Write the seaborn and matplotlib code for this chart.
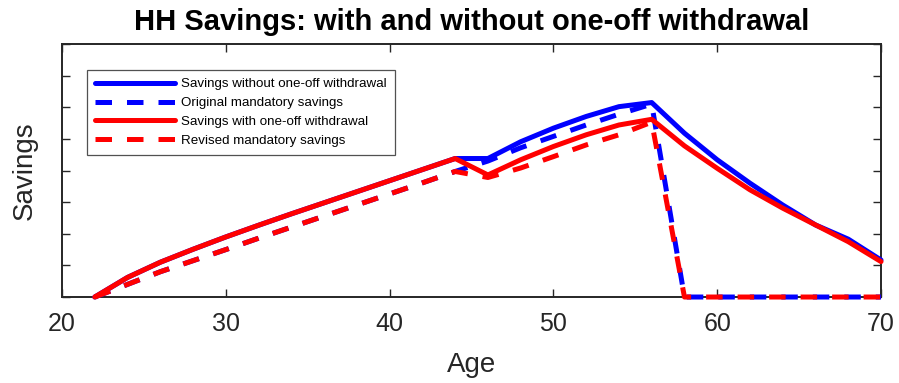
import matplotlib
matplotlib.use("Agg")
import matplotlib.pyplot as plt
import seaborn as sns

# Household savings profiles by age (arbitrary units)
ages = list(range(22, 71, 2))

savings_without = [0.00, 0.62, 1.10, 1.51, 1.90, 2.27, 2.63, 2.98, 3.33, 3.68, 4.03, 4.38,
                   4.38, 4.91, 5.34, 5.71, 6.02, 6.15, 5.18, 4.34, 3.60, 2.91, 2.28, 1.83, 1.17]
original_mandatory = [0.00, 0.40, 0.80, 1.15, 1.50, 1.86, 2.21, 2.56, 2.91, 3.26, 3.61, 3.97,
                      4.30, 4.72, 5.08, 5.44, 5.78, 6.10, 0.00, 0.00, 0.00, 0.00, 0.00, 0.00, 0.00]
savings_with = [0.00, 0.62, 1.10, 1.51, 1.90, 2.27, 2.63, 2.98, 3.33, 3.68, 4.03, 4.38,
                3.86, 4.34, 4.76, 5.13, 5.44, 5.62, 4.78, 4.07, 3.39, 2.81, 2.28, 1.75, 1.12]
revised_mandatory = [0.00, 0.40, 0.80, 1.15, 1.50, 1.86, 2.21, 2.56, 2.91, 3.26, 3.61, 3.97,
                     3.78, 4.08, 4.44, 4.81, 5.13, 5.53, 0.00, 0.00, 0.00, 0.00, 0.00, 0.00, 0.00]

series_labels = ["Savings without one-off withdrawal", "Original mandatory savings",
                 "Savings with one-off withdrawal", "Revised mandatory savings"]
x_ticks = [20, 30, 40, 50, 60, 70]
y_ticks = list(range(0, 9))

sns.set_theme(style="white")
plt.rcParams["font.family"] = ["Liberation Sans", "DejaVu Sans"]
ink = "#262626"

fig = plt.figure(figsize=(8.99, 3.83), dpi=100)
ax = fig.add_axes([0.069, 0.2245, 0.911, 0.6605])

lw = 3.6
dash = (0, (3.3, 3.0))
common = dict(lw=lw, ax=ax, clip_on=False, zorder=3)
sns.lineplot(x=ages, y=savings_without, color="#0000ff", label=series_labels[0], **common)
sns.lineplot(x=ages, y=original_mandatory, color="#0000ff", linestyle=dash,
             label=series_labels[1], **common)
sns.lineplot(x=ages, y=savings_with, color="#ff0000", label=series_labels[2], **common)
sns.lineplot(x=ages, y=revised_mandatory, color="#ff0000", linestyle=dash,
             label=series_labels[3], **common)

ax.set_xlim(20, 70)
ax.set_ylim(0, 8)
ax.set_xticks(x_ticks)
ax.set_yticks(y_ticks)
ax.set_yticklabels([])
ax.tick_params(axis="both", which="both", direction="in", length=5.5, width=1.0,
               color=ink, top=True, right=True, left=True, bottom=True)
ax.tick_params(axis="x", labelsize=18, labelcolor=ink, pad=11)
for s in ax.spines.values():
    s.set_visible(True)
    s.set_color(ink)
    s.set_linewidth(1.4)

ax.set_xlabel("Age", fontsize=20, color=ink, labelpad=11)
ax.set_ylabel("Savings", fontsize=20, color=ink, labelpad=14)
ax.set_title("HH Savings: with and without one-off withdrawal", fontsize=21,
             fontweight="bold", color="black", pad=10)

leg = ax.legend(loc="upper left", bbox_to_anchor=(0.0305, 0.897), borderaxespad=0,
                fontsize=9.6, handlelength=6.0, handletextpad=0.45, borderpad=0.6,
                labelspacing=0.48, fancybox=False, frameon=True)
leg.get_frame().set_edgecolor(ink)
leg.get_frame().set_linewidth(0.9)
leg.set_zorder(5)
for t in leg.get_texts():
    t.set_color("black")

fig.savefig("out.png", dpi=100)
